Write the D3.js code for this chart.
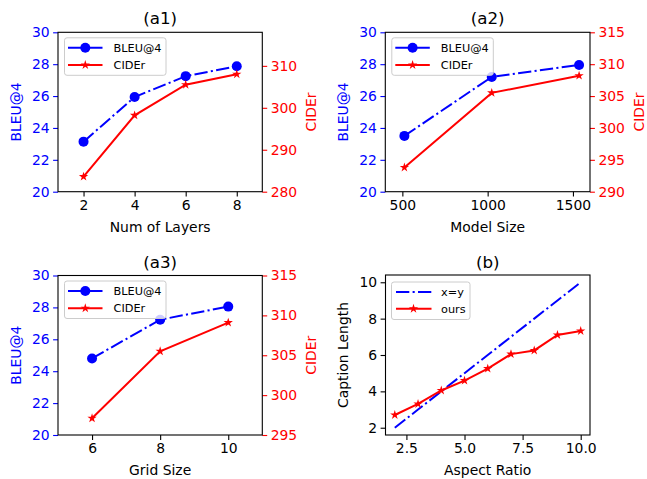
<!DOCTYPE html>
<html><head><meta charset="utf-8">
<script src="https://cdn.jsdelivr.net/npm/d3@7"></script>
<style>body{margin:0;background:#fff}svg{display:block;font-family:"DejaVu Sans",sans-serif}</style>
</head><body><svg id="c" width="647" height="479"></svg>
<script>
// ---- data ----
const layers = [2, 4, 6, 8];
const bleuLayers = [23.14, 25.94, 27.25, 27.87];
const ciderLayers = [283.6, 298.2, 305.5, 308.0];
const layerTicks = [2, 4, 6, 8];

const modelSize = [512, 1024, 1536];
const bleuModel = [23.5, 27.2, 27.95];
const ciderModel = [293.8, 305.5, 308.2];
const modelTicks = [500, 1000, 1500];

const gridSize = [6, 8, 10];
const bleuGrid = [24.8, 27.23, 28.05];
const ciderGrid = [297.1, 305.5, 309.1];
const gridTicks = [6, 8, 10];

const bleuTicks = [20, 22, 24, 26, 28, 30];
const ciderTicksA1 = [280, 290, 300, 310];
const ciderTicksA2 = [290, 295, 300, 305, 310, 315];
const ciderTicksA3 = [295, 300, 305, 310, 315];

const aspectRatio = [2, 3, 4, 5, 6, 7, 8, 9, 10];
const captionLength = [2.70, 3.31, 4.05, 4.59, 5.25, 6.05, 6.25, 7.10, 7.32];
const identityLine = [2, 3, 4, 5, 6, 7, 8, 9, 10];
const aspectTicks = [2.5, 5.0, 7.5, 10.0];
const captionTicks = [2, 4, 6, 8, 10];

const svg = d3.select("#c");
const BLUE = "#0000ff", RED = "#ff0000";
const FS = 13.9;
const dashDot = "13.3,3.3,2.1,3.3";
const star = d3.symbol().type(d3.symbolStar).size(27);

function styleAxis(g, color) {
  g.selectAll("path.domain").remove();
  g.selectAll(".tick line").attr("stroke", color).attr("stroke-width", 1.1);
  g.selectAll(".tick text").attr("fill", color).attr("font-size", FS)
    .attr("font-family", "DejaVu Sans");
}

function frame(L, R, T, B) {
  svg.append("rect").attr("x", L).attr("y", T).attr("width", R - L).attr("height", B - T)
    .attr("fill", "none").attr("stroke", "#000").attr("stroke-width", 1.1);
}

function legend(x, y, items) {
  const g = svg.append("g").attr("transform", `translate(${x},${y})`);
  g.append("rect").attr("width", 101.5).attr("height", 37.5).attr("rx", 2.5)
    .attr("fill", "#fff").attr("fill-opacity", 0.8).attr("stroke", "#cccccc").attr("stroke-width", 1);
  items.forEach((it, i) => {
    const yy = 10 + i * 17.2;
    g.append("line").attr("x1", 3.5).attr("x2", 38).attr("y1", yy).attr("y2", yy)
      .attr("stroke", it.color).attr("stroke-width", 2).attr("stroke-dasharray", it.dash || null);
    if (it.marker === "circle") g.append("circle").attr("cx", 20.8).attr("cy", yy).attr("r", 5).attr("fill", it.color);
    if (it.marker === "star") g.append("path").attr("d", star).attr("transform", `translate(20.8,${yy})`).attr("fill", it.color);
    g.append("text").attr("x", 49).attr("y", yy).attr("dy", "0.36em").attr("font-size", 11.3)
      .attr("fill", "#000").text(it.label);
  });
}

function dualPanel(o) {
  const {L, R, T, B} = o;
  const x = d3.scaleLinear().domain(o.xDomain).range([L, R]);
  const yL = d3.scaleLinear().domain([20, 30]).range([B, T]);
  const yR = d3.scaleLinear().domain(o.rDomain).range([B, T]);
  const gx = svg.append("g").attr("transform", `translate(0,${B})`)
    .call(d3.axisBottom(x).tickValues(o.xTicks).tickSize(4.9).tickPadding(3.5).tickFormat(d3.format("d")));
  styleAxis(gx, "#000");
  const gl = svg.append("g").attr("transform", `translate(${L},0)`)
    .call(d3.axisLeft(yL).tickValues(bleuTicks).tickSize(4.9).tickPadding(3.5).tickFormat(d3.format("d")));
  styleAxis(gl, BLUE);
  const gr = svg.append("g").attr("transform", `translate(${R},0)`)
    .call(d3.axisRight(yR).tickValues(o.rTicks).tickSize(4.9).tickPadding(3.5).tickFormat(d3.format("d")));
  styleAxis(gr, RED);
  // lines
  const ptsB = o.xs.map((v, i) => [x(v), yL(o.bleu[i])]);
  const ptsC = o.xs.map((v, i) => [x(v), yR(o.cider[i])]);
  svg.append("path").attr("d", d3.line()(ptsB)).attr("fill", "none").attr("stroke", BLUE)
    .attr("stroke-width", 2).attr("stroke-dasharray", dashDot);
  svg.selectAll(null).data(ptsB).enter().append("circle").attr("cx", d => d[0]).attr("cy", d => d[1])
    .attr("r", 5).attr("fill", BLUE);
  svg.append("path").attr("d", d3.line()(ptsC)).attr("fill", "none").attr("stroke", RED).attr("stroke-width", 2);
  svg.selectAll(null).data(ptsC).enter().append("path").attr("d", star)
    .attr("transform", d => `translate(${d[0]},${d[1]})`).attr("fill", RED);
  frame(L, R, T, B);
  legend(L + 6.5, T + 5.5, [
    {label: "BLEU@4", color: BLUE, marker: "circle"},
    {label: "CIDEr", color: RED, marker: "star"}]);
  // labels
  svg.append("text").attr("x", (L + R) / 2).attr("y", T - 8).attr("text-anchor", "middle")
    .attr("font-size", 16.7).text(o.title);
  svg.append("text").attr("x", (L + R) / 2).attr("y", B + 40).attr("text-anchor", "middle")
    .attr("font-size", FS).text(o.xLabel);
  svg.append("text").attr("transform", `translate(${L - 37.5},${(T + B) / 2}) rotate(-90)`)
    .attr("text-anchor", "middle").attr("font-size", FS).attr("fill", BLUE).text("BLEU@4");
  svg.append("text").attr("transform", `translate(${R + 53.5},${(T + B) / 2}) rotate(-90)`)
    .attr("text-anchor", "middle").attr("font-size", FS).attr("fill", RED).text("CIDEr");
}

dualPanel({L: 58, R: 262.3, T: 32.3, B: 191.7, xDomain: [1, 9], xTicks: layerTicks,
  xs: layers, bleu: bleuLayers, cider: ciderLayers, rDomain: [280, 318], rTicks: ciderTicksA1,
  title: "(a1)", xLabel: "Num of Layers"});
dualPanel({L: 385.3, R: 590, T: 32.3, B: 191.7, xDomain: [400, 1600], xTicks: modelTicks,
  xs: modelSize, bleu: bleuModel, cider: ciderModel, rDomain: [290, 315], rTicks: ciderTicksA2,
  title: "(a2)", xLabel: "Model Size"});
dualPanel({L: 58, R: 262.3, T: 275.5, B: 435, xDomain: [5, 11], xTicks: gridTicks,
  xs: gridSize, bleu: bleuGrid, cider: ciderGrid, rDomain: [295, 315], rTicks: ciderTicksA3,
  title: "(a3)", xLabel: "Grid Size"});

// panel (b)
(function () {
  const L = 385.5, R = 590, T = 275, B = 435;
  const x = d3.scaleLinear().domain([1.6, 10.4]).range([L, R]);
  const y = d3.scaleLinear().domain([1.6, 10.4]).range([B, T]);
  const gx = svg.append("g").attr("transform", `translate(0,${B})`)
    .call(d3.axisBottom(x).tickValues(aspectTicks).tickSize(4.9).tickPadding(3.5).tickFormat(d3.format(".1f")));
  styleAxis(gx, "#000");
  const gy = svg.append("g").attr("transform", `translate(${L},0)`)
    .call(d3.axisLeft(y).tickValues(captionTicks).tickSize(4.9).tickPadding(3.5).tickFormat(d3.format("d")));
  styleAxis(gy, "#000");
  const idPts = identityLine.map(v => [x(v), y(v)]);
  svg.append("path").attr("d", d3.line()(idPts)).attr("fill", "none").attr("stroke", BLUE)
    .attr("stroke-width", 2).attr("stroke-dasharray", dashDot);
  const pts = aspectRatio.map((v, i) => [x(v), y(captionLength[i])]);
  svg.append("path").attr("d", d3.line()(pts)).attr("fill", "none").attr("stroke", RED).attr("stroke-width", 2);
  svg.selectAll(null).data(pts).enter().append("path").attr("d", star)
    .attr("transform", d => `translate(${d[0]},${d[1]})`).attr("fill", RED);
  frame(L, R, T, B);
  const g = svg.append("g").attr("transform", `translate(${L + 6},${T + 7})`);
  g.append("rect").attr("width", 78.5).attr("height", 37.5).attr("rx", 2.5)
    .attr("fill", "#fff").attr("fill-opacity", 0.8).attr("stroke", "#cccccc");
  [{label: "x=y", color: BLUE, dash: dashDot}, {label: "ours", color: RED, marker: "star"}].forEach((it, i) => {
    const yy = 10 + i * 16.7;
    g.append("line").attr("x1", 4.5).attr("x2", 40).attr("y1", yy).attr("y2", yy)
      .attr("stroke", it.color).attr("stroke-width", 2).attr("stroke-dasharray", it.dash || null);
    if (it.marker) g.append("path").attr("d", star).attr("transform", `translate(22,${yy})`).attr("fill", it.color);
    g.append("text").attr("x", 49.5).attr("y", yy).attr("dy", "0.36em").attr("font-size", 11.3).text(it.label);
  });
  svg.append("text").attr("x", (L + R) / 2).attr("y", T - 7).attr("text-anchor", "middle")
    .attr("font-size", 16.7).text("(b)");
  svg.append("text").attr("x", (L + R) / 2).attr("y", B + 40).attr("text-anchor", "middle")
    .attr("font-size", FS).text("Aspect Ratio");
  svg.append("text").attr("transform", `translate(${L - 37.5},${(T + B) / 2}) rotate(-90)`)
    .attr("text-anchor", "middle").attr("font-size", FS).text("Caption Length");
})();
</script></body></html>
